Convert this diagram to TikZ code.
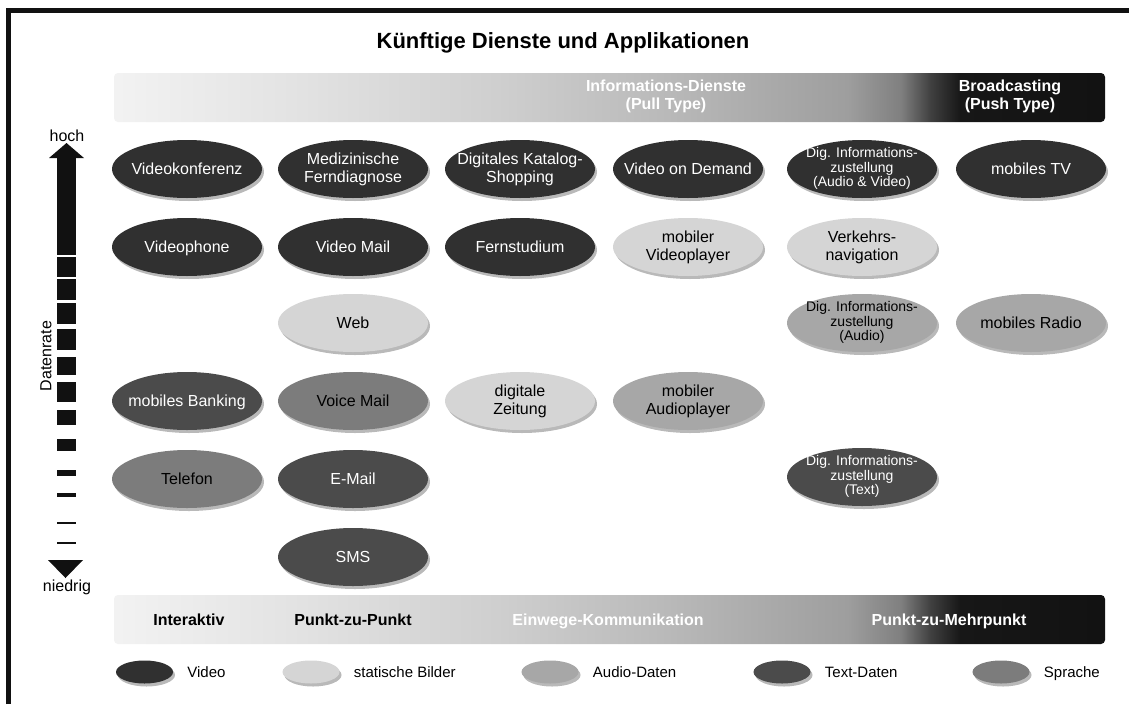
\documentclass[tikz,border=0pt]{standalone}
\usepackage{fontspec}
\setmainfont{Liberation Sans}
\usetikzlibrary{shapes.geometric,shadows}

\definecolor{cvid}{HTML}{303030}
\definecolor{cbild}{HTML}{D5D5D5}
\definecolor{caudio}{HTML}{A7A7A7}
\definecolor{ctext}{HTML}{4B4B4B}
\definecolor{cspr}{HTML}{7C7C7C}
\definecolor{cdark}{HTML}{111111}

\pgfdeclarehorizontalshading{barshade}{100bp}{rgb(0bp)=(.95,.95,.95); rgb(25bp)=(.95,.95,.95); rgb(34bp)=(.89,.89,.89); rgb(44.5bp)=(.81,.81,.81); rgb(52.5bp)=(.73,.73,.73); rgb(62bp)=(.62,.62,.62); rgb(64.7bp)=(.5,.5,.5); rgb(66.2bp)=(.25,.25,.25); rgb(67.7bp)=(.09,.09,.09); rgb(75bp)=(.07,.07,.07); rgb(100bp)=(.07,.07,.07)}

\newcommand\sm{\fontsize{14}{14.5}\selectfont}
\newcommand\mystrut{\rule[-3.5pt]{0pt}{18.5pt}}
\newcommand\smstrut{\rule[-3pt]{0pt}{16pt}}
\newcommand\svc[6][]{%
  \node[#5E] (#2) at (#3,#4) {};
  \node[#5T,#1] (#2t) at (#2) {#6};}
\newcommand\leg[5]{%
  \node[#4E, minimum width=57pt, minimum height=23pt] (#1) at (#2,#3) {};
  \node[legtext] (#1t) at ([xshift=14pt,yshift=-5.5pt]#1.east) {#5};}

\tikzset{
  ell/.style={ellipse, minimum width=150pt, minimum height=58pt, inner sep=0pt,
    drop shadow={shadow xshift=2pt, shadow yshift=-3pt, opacity=.55}},
  lbl/.style={font=\fontsize{16}{18}\selectfont, align=center, inner sep=0pt,
    execute at begin node=\mystrut, execute at end node=\mystrut},
  small/.style={font=\sm, execute at begin node=\smstrut, execute at end node=\smstrut},
  vidE/.style={ell, fill=cvid}, vidT/.style={lbl, text=white},
  bildE/.style={ell, fill=cbild}, bildT/.style={lbl, text=black},
  audE/.style={ell, fill=caudio}, audT/.style={lbl, text=black},
  txtE/.style={ell, fill=ctext}, txtT/.style={lbl, text=white},
  sprE/.style={ell, fill=cspr}, sprT/.style={lbl, text=black},
  legtext/.style={anchor=base west, inner sep=0pt, font=\fontsize{15}{17}\selectfont},
  bar/.style={shading=barshade, rounded corners=4pt},
  bartext/.style={font=\bfseries\fontsize{16}{18}\selectfont, align=center, inner sep=0pt},
  axlbl/.style={font=\fontsize{16}{18}\selectfont, inner sep=0pt},
}

\begin{document}
\begin{tikzpicture}[x=1pt, y=-1pt]
\useasboundingbox (0,0) rectangle (1129,704);
\fill[white] (0,0) rectangle (1129,704);

% frame
\draw[line width=5pt, cdark] (8.5,704) -- (8.5,10.5) -- (1129,10.5);

% title
\node[font=\bfseries\fontsize{22}{26}\selectfont, anchor=base, inner sep=0pt] (title) at (563,48) {Künftige Dienste und Applikationen};

% top bar
\path[bar] (114,73) rectangle (1105,122);
\node[bartext, text=white, anchor=base] (pull1) at (666,91) {Informations-Dienste};
\node[bartext, text=white, anchor=base] (pull2) at (666,109) {(Pull Type)};
\node[bartext, text=white, anchor=base] (push1) at (1010,91) {Broadcasting};
\node[bartext, text=white, anchor=base] (push2) at (1010,109) {(Push Type)};

% bottom bar
\path[bar] (114,595) rectangle (1105,644);
\node[bartext, text=black, anchor=base] (inter) at (189,625) {Interaktiv};
\node[bartext, text=black, anchor=base] (p2p) at (353,625) {Punkt-zu-Punkt};
\node[bartext, text=white, anchor=base] (einweg) at (608,625) {Einwege-Kommunikation};
\node[bartext, text=white, anchor=base] (p2m) at (949,625) {Punkt-zu-Mehrpunkt};

% data rate arrow
\fill[cdark] (57,255) rectangle (76,157);
\fill[cdark] (49,158) -- (66.5,143) -- (84,158) -- cycle;
\foreach \a/\b in {257/277, 279/300, 303/324, 329/350, 357/375, 382/402, 410/425, 439/451, 470/476, 493/497, 522/524, 542/543.5}
  \fill[cdark] (57,\a) rectangle (76,\b);
\fill[cdark] (48,560) -- (83,560) -- (65.5,578) -- cycle;
\node[axlbl, anchor=base] (hoch) at (67,141.5) {hoch};
\node[axlbl, anchor=base] (niedrig) at (67,591) {niedrig};
\node[axlbl, rotate=90] (rate) at (46,356) {Datenrate};

% services
\svc{vk}{187}{169}{vid}{Videokonferenz}
\svc{mf}{353}{169}{vid}{Medizinische\\Ferndiagnose}
\svc{ks}{520}{169}{vid}{Digitales Katalog-\\Shopping}
\svc{vod}{688}{169}{vid}{Video on Demand}
\svc[small]{dav}{862}{169}{vid}{Dig. Informations-\\zustellung\\(Audio \& Video)}
\svc{tv}{1031}{169}{vid}{mobiles TV}

\svc{vp}{187}{247}{vid}{Videophone}
\svc{vm}{353}{247}{vid}{Video Mail}
\svc{fs}{520}{247}{vid}{Fernstudium}
\svc{mvp}{688}{247}{bild}{mobiler\\Videoplayer}
\svc{vn}{862}{247}{bild}{Verkehrs-\\navigation}

\svc{web}{353}{323}{bild}{Web}
\svc[small]{da}{862}{323}{aud}{Dig. Informations-\\zustellung\\(Audio)}
\svc{radio}{1031}{323}{aud}{mobiles Radio}

\svc{mb}{187}{401}{txt}{mobiles Banking}
\svc{vom}{353}{401}{spr}{Voice Mail}
\svc{dz}{520}{401}{bild}{digitale\\Zeitung}
\svc{map}{688}{401}{aud}{mobiler\\Audioplayer}

\svc{tel}{187}{479}{spr}{Telefon}
\svc{em}{353}{479}{txt}{E-Mail}
\svc[small]{dt}{862}{477}{txt}{Dig. Informations-\\zustellung\\(Text)}

\svc{sms}{353}{557}{txt}{SMS}

% legend
\leg{lv}{144.5}{672}{vid}{Video}
\leg{lb}{311}{672}{bild}{statische Bilder}
\leg{la}{550}{672}{aud}{Audio-Daten}
\leg{lt}{782}{672}{txt}{Text-Daten}
\leg{ls}{1001}{672}{spr}{Sprache}
\end{tikzpicture}
\end{document}
